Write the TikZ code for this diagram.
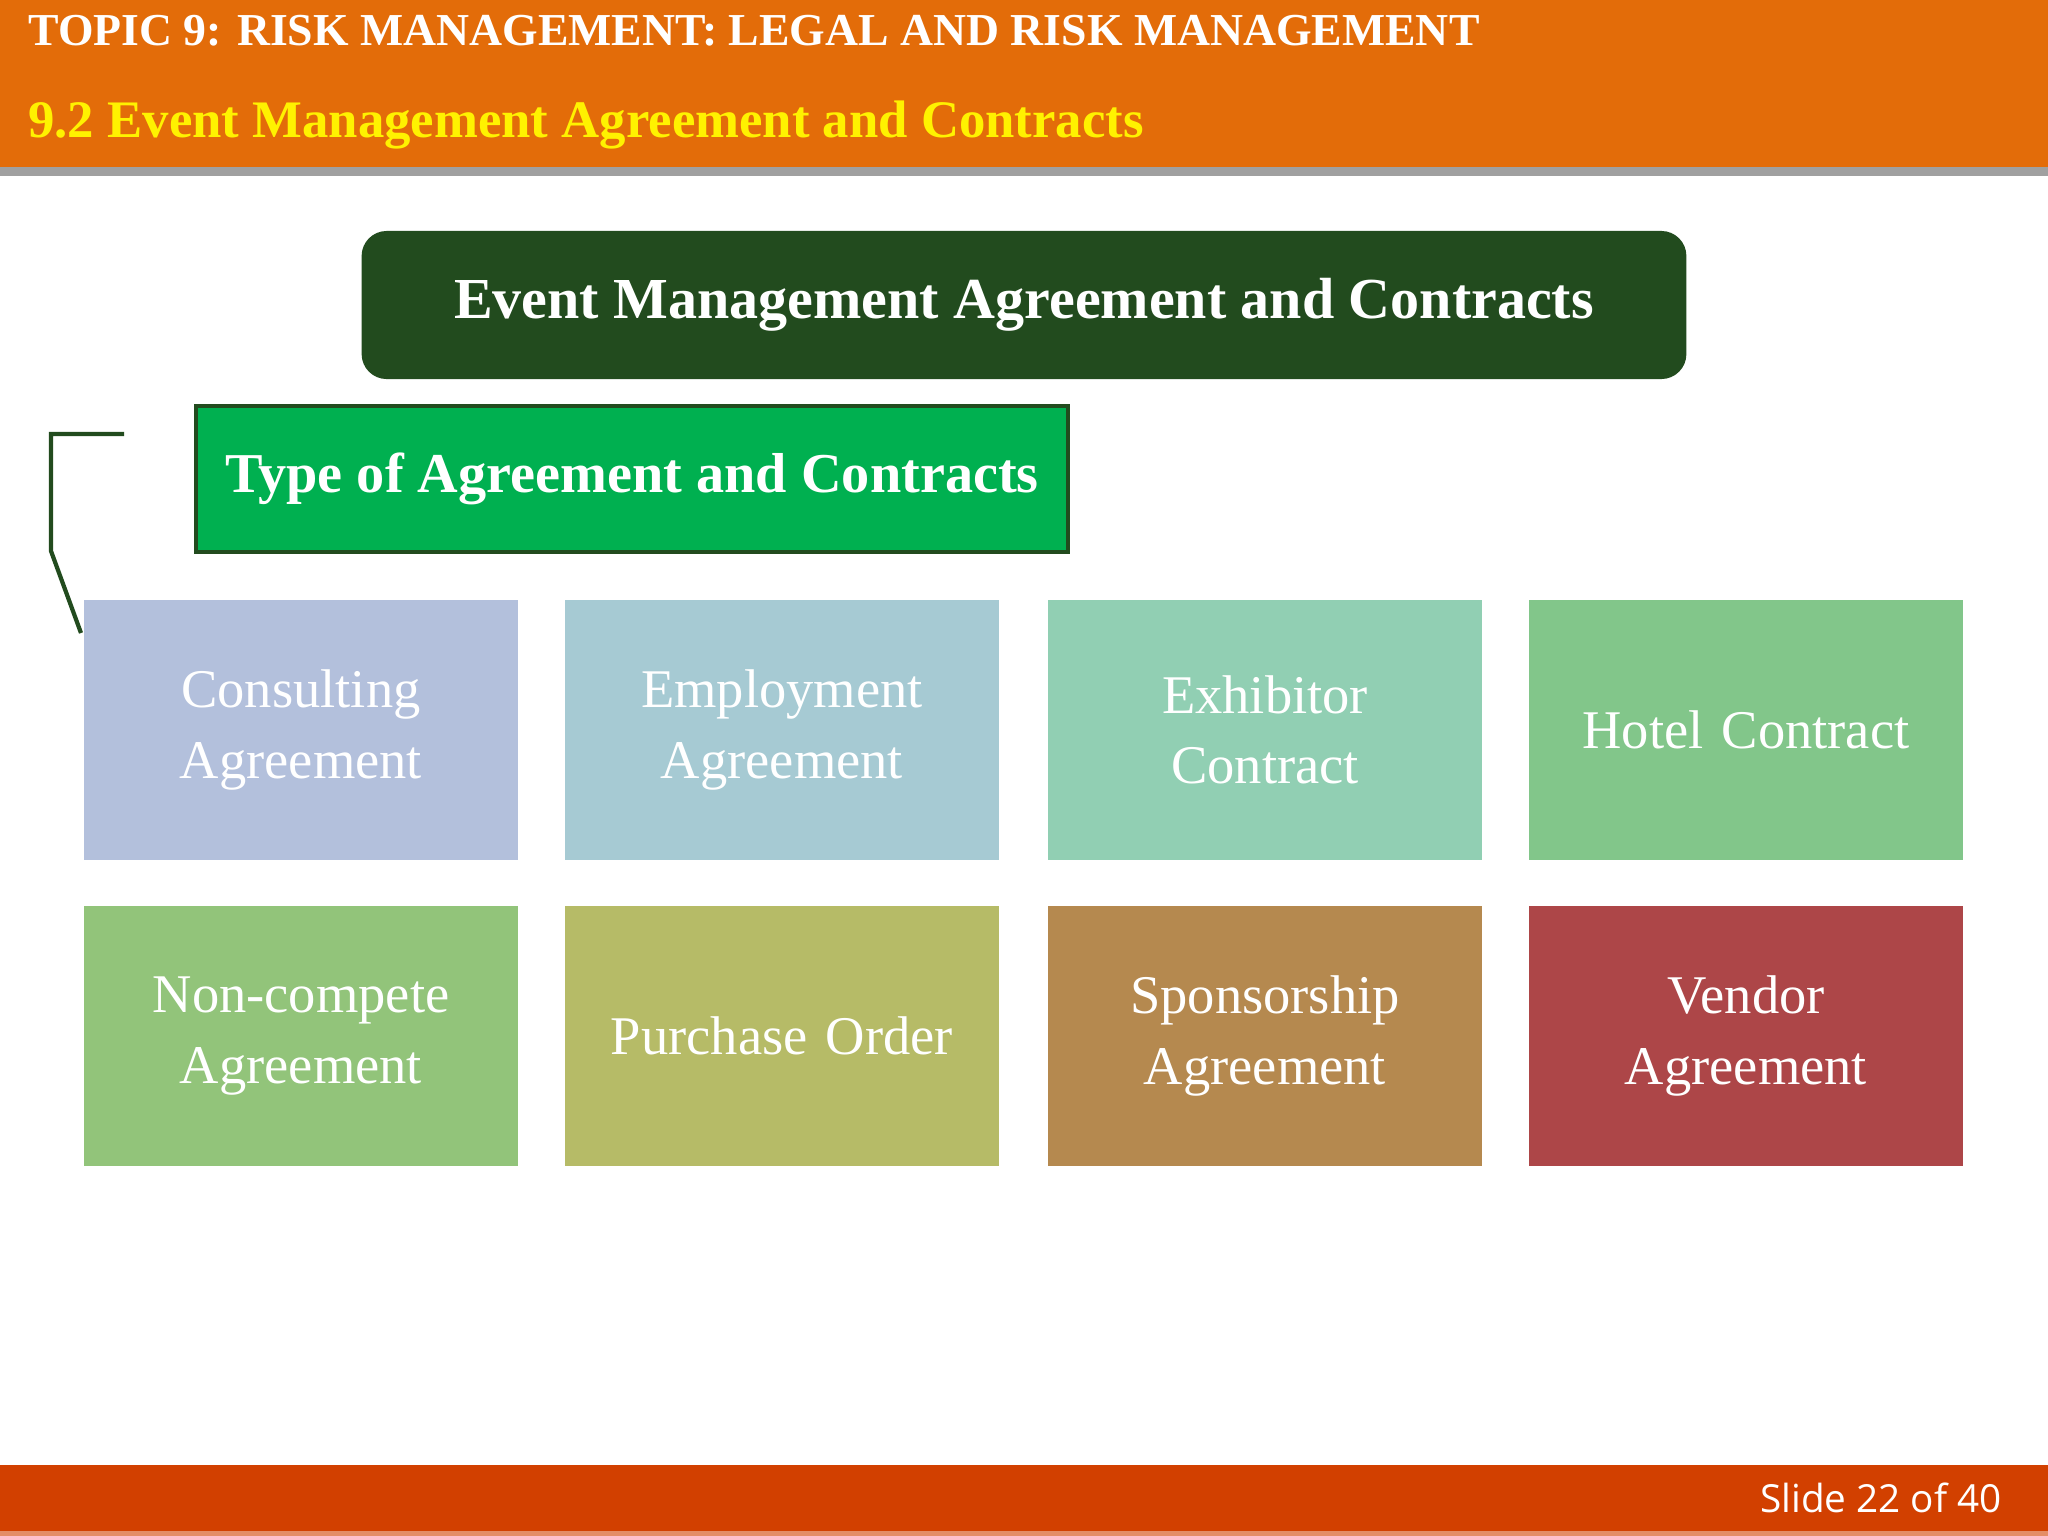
\documentclass[tikz,border=0pt]{standalone}
\usepackage{fontspec}
\setmainfont{Liberation Serif}
\setsansfont{Open Sans}
\definecolor{hdr}{HTML}{E36C09}
\definecolor{gry}{HTML}{A0A0A0}
\definecolor{dkg}{HTML}{224B1E}
\definecolor{grn}{HTML}{00B050}
\definecolor{ftr}{HTML}{D24000}
\definecolor{cA}{HTML}{B3C0DC}
\definecolor{cB}{HTML}{A6CAD3}
\definecolor{cC}{HTML}{91CFB3}
\definecolor{cD}{HTML}{82C68A}
\definecolor{cE}{HTML}{92C47A}
\definecolor{cF}{HTML}{B6BB67}
\definecolor{cG}{HTML}{B5894F}
\definecolor{cH}{HTML}{AD4648}
\tikzset{
 item/.style={minimum width=4.34cm,minimum height=2.59cm,inner sep=0pt,text=white,align=center,
   font=\fontsize{15.5}{20}\selectfont,text width=4.1cm},
}
\begin{document}
\begin{tikzpicture}[x=0.01cm,y=-0.01cm]
\useasboundingbox (0,0) rectangle (2048,1536);
\fill[white] (0,0) rectangle (2048,1536);
\fill[hdr] (0,0) rectangle (2048,167);
\fill[gry] (0,167) rectangle (2048,176);
\node[anchor=west,text=white,font=\bfseries\fontsize{13}{15}\selectfont,xscale=1.0] (t1) at (16,31) {TOPIC 9: RISK MANAGEMENT: LEGAL AND RISK MANAGEMENT};
\node[anchor=west,text=yellow,font=\bfseries\fontsize{15}{18}\selectfont] (t2) at (16,125) {9.2 Event Management Agreement and Contracts};
\node[fill=dkg,rounded corners=0.25cm,minimum width=13.24cm,minimum height=1.48cm,text=white,font=\bfseries\fontsize{16.5}{20}\selectfont] (main) at (1024,305) {Event Management Agreement and Contracts};
\node[fill=grn,draw=dkg,line width=1.2pt,minimum width=8.72cm,minimum height=1.46cm,text=white,font=\bfseries\fontsize{16}{20}\selectfont] (type) at (632,479) {Type of Agreement and Contracts};
\coordinate (b1) at (124,434);
\coordinate (b2) at (51,434);
\coordinate (b3) at (51,551);
\coordinate (b4) at (81,633);
\draw[dkg,line width=1.2pt] (b1) -- (b2) -- (b3) -- (b4);
\node[item,fill=cA] (n1) at (301,730) {Consulting\\Agreement};
\node[item,fill=cB] (n2) at (782,730) {Employment\\Agreement};
\node[item,fill=cC] (n3) at (1265,730) {Exhibitor Contract};
\node[item,fill=cD] (n4) at (1746,730) {Hotel Contract};
\node[item,fill=cE] (n5) at (301,1036) {Non-compete\\Agreement};
\node[item,fill=cF] (n6) at (782,1036) {Purchase Order};
\node[item,fill=cG] (n7) at (1265,1036) {Sponsorship\\Agreement};
\node[item,fill=cH] (n8) at (1746,1036) {Vendor\\Agreement};
\fill[ftr] (0,1465) rectangle (2048,1531);
\fill[ftr!60!white] (0,1531) rectangle (2048,1536);
\node[anchor=east,text=white,font=\sffamily\fontsize{11}{13}\selectfont] (sl) at (2014,1498) {Slide 22 of 40};
\end{tikzpicture}
\end{document}
